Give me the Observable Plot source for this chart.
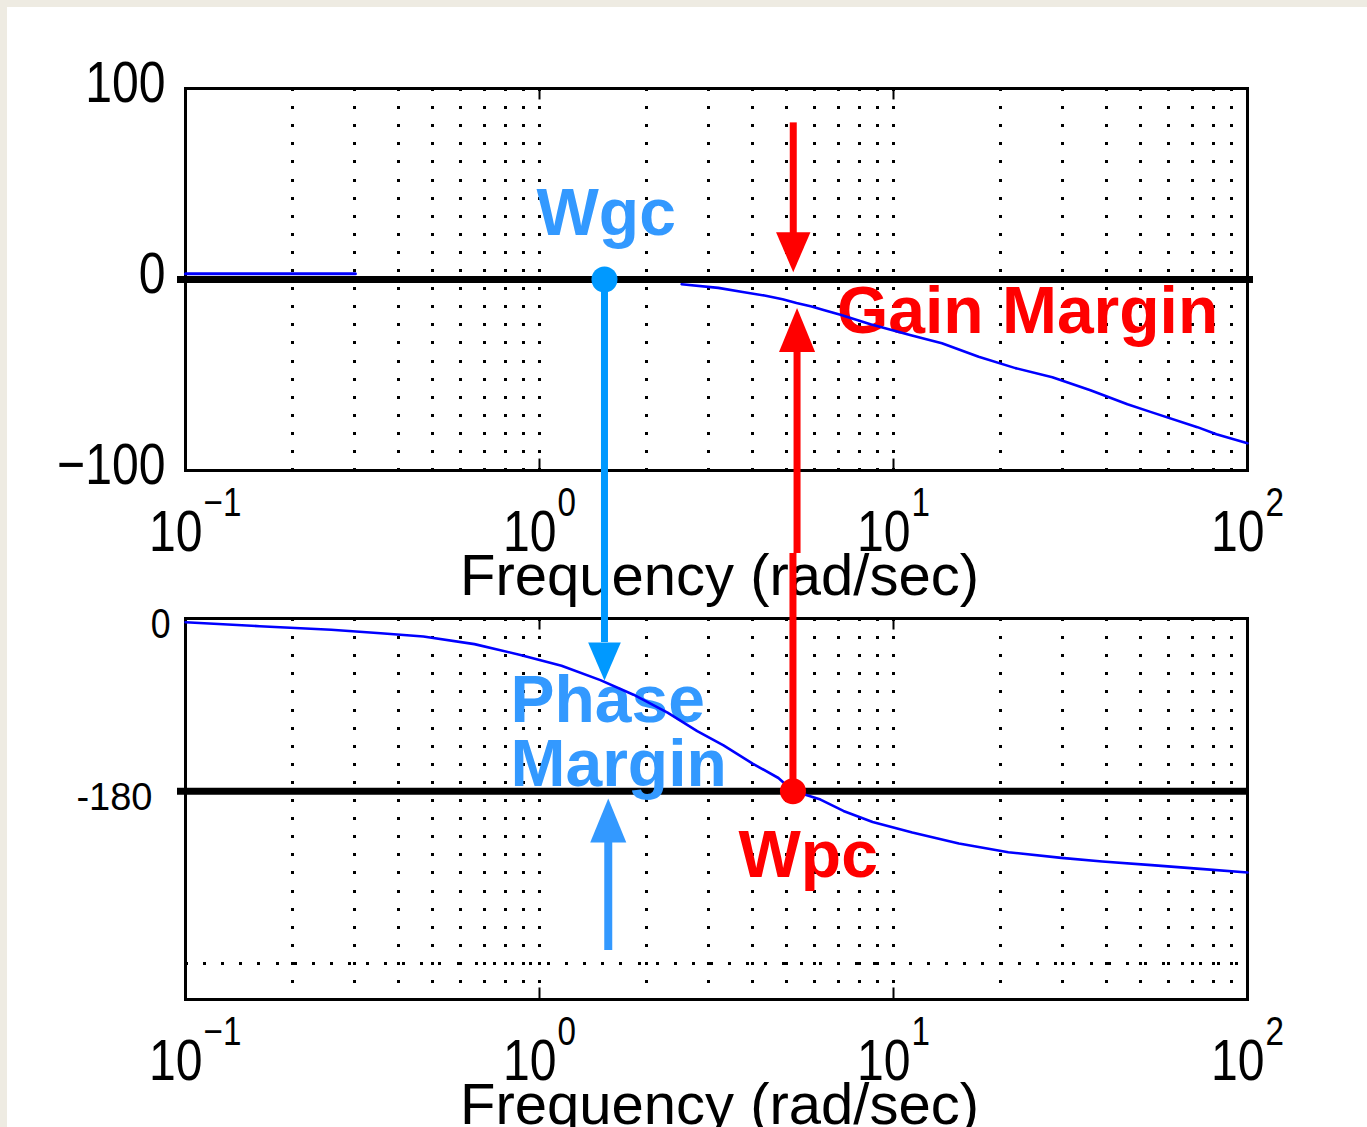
<!DOCTYPE html>
<html>
<head>
<meta charset="utf-8">
<script src="https://cdn.jsdelivr.net/npm/d3@7"></script>
<script src="https://cdn.jsdelivr.net/npm/@observablehq/plot@0.6"></script>
<style>
  html, body { margin: 0; padding: 0; }
  body { width: 1367px; height: 1127px; background: #eeebe2; position: relative; overflow: hidden; }
  #paper { position: absolute; left: 7px; top: 7px; right: 0; bottom: 0; background: #ffffff; }
  .layer { position: absolute; left: 0; top: 0; width: 1367px; height: 1127px; }
</style>
</head>
<body>
<div id="paper"></div>
<div id="top" class="layer"></div>
<div id="bottom" class="layer"></div>
<script>
// ---------- data ----------
const freqDomain = [0.1, 100];
const gridFreqs = [0.2,0.3,0.4,0.5,0.6,0.7,0.8,0.9,1,2,3,4,5,6,7,8,9,10,20,30,40,50,60,70,80,90];
const decadeTicks = [0.1, 1, 10, 100];
const decadeBase = ["10", "10", "10", "10"];
const decadeExponents = ["\u22121", "0", "1", "2"];
const innerTicks = [1, 10];

const magDomain = [-100, 100];
const magTicks = [-100, 0, 100];
const magTickLabels = ["\u2212100", "0", "100"];

const phaseDomain = [-397, 0];
const phaseGridLines = [-360];
const phaseTopLabel = ["0"];
const phaseRefLabel = ["-180"];

// magnitude curve (dB), low-frequency piece and high-frequency piece
const magLowFreq = [0.1, 0.302];
const magLowDb   = [3.0, 3.0];
const magHighFreq = [2.52, 3.2, 3.75, 4.32, 4.86, 5.32, 5.87, 6.38, 7.08, 8.61, 11.2, 13.7, 17.4, 22.1, 28.1, 36.0, 45.8, 53.2, 72.2, 81.7, 100];
const magHighDb   = [-2.5, -4.4, -6.5, -8.4, -10.3, -12.3, -14.1, -16.1, -18.4, -23.4, -29.2, -33.4, -40.4, -46.4, -51.2, -58.0, -65.3, -69.3, -77.3, -81.0, -85.7];

// phase curve (deg)
const phaseFreq = [0.1, 0.162, 0.258, 0.356, 0.47, 0.655, 0.889, 1.154, 1.486, 1.843, 2.30, 2.79, 3.31, 4.0, 4.73, 5.19, 6.22, 7.22, 8.73, 11.3, 15.3, 21.1, 29.8, 38.9, 53.6, 73.6, 100];
const phaseDeg  = [-3.9, -8.0, -11.8, -15.3, -18.7, -26.7, -38.2, -49.2, -64.2, -79.4, -98.1, -117.3, -132.2, -151.2, -166.2, -179.5, -188.7, -200.5, -212.0, -223.0, -234.4, -243.5, -249.4, -253.2, -257.0, -260.9, -264.6];

// annotations
const wgcFreq = 1.526;            // gain crossover
const wpcFreq = 5.20;             // phase crossover
const pmArrowFreq = 1.564;
const gmUpperFreq = 5.21;
const gmLowerFreq = 5.34;
const gmDownLine = [82, 19];      // dB, top panel
const gmDownHead = [14.3];        // dB
const gmUpHead = [-26.5];         // dB
const gmLink = [[284.5, 67.7], [67.7, -180]]; // deg, bottom panel scale
const wgcLink = [354.3, -25];     // deg, bottom panel scale
const wgcHead = [-44.8];
const pmUpLine = [-346, -232];
const pmUpHead = [-210.5];

const labelWgc = {text: "Wgc", f: 0.981, v: 23.2};
const labelGM = {text: "Gain Margin", f: 6.92, v: -28.1};
const labelPhase = {text: "Phase", f: 0.828, v: -107.9};
const labelMargin = {text: "Margin", f: 0.828, v: -174.5};
const labelWpc = {text: "Wpc", f: 3.65, v: -269.8};

const xLabel = "Frequency (rad/sec)";

// ---------- helpers ----------
const W = 1367, H = 1127;
const RED = "#ff0000", BLUE_LINE = "#0099ff", BLUE_TXT = "#3399ff", CURVE = "#0000ff";
const NARROW = "'Liberation Sans Narrow', 'Liberation Sans', Arial, sans-serif";
const SANS = "'Liberation Sans', Arial, sans-serif";

const triDown = {draw(ctx, size) { const r = Math.sqrt(size / Math.PI); ctx.moveTo(-0.86 * r, -r); ctx.lineTo(0.86 * r, -r); ctx.lineTo(0, r); ctx.closePath(); }};
const triUp = {draw(ctx, size) { const r = Math.sqrt(size / Math.PI); ctx.moveTo(-0.82 * r, r); ctx.lineTo(0.82 * r, r); ctx.lineTo(0, -r); ctx.closePath(); }};

const magLow = magLowFreq.map((f, i) => ({f, v: magLowDb[i]}));
const magHigh = magHighFreq.map((f, i) => ({f, v: magHighDb[i]}));
const phase = phaseFreq.map((f, i) => ({f, v: phaseDeg[i]}));

const dotted = {stroke: "#000", strokeWidth: 3, strokeDasharray: "3,15.1", shapeRendering: "crispEdges"};
const boldText = {textAnchor: "start", lineAnchor: "bottom", fontSize: 66, fontWeight: "bold", fontFamily: SANS};

function axisLabels(yMin) {
  return [
    Plot.text(decadeTicks, {x: d => d, y: yMin, text: (d, i) => decadeBase[i], textAnchor: "end", lineAnchor: "bottom", dx: 17, dy: 80, fontSize: 58, fontFamily: NARROW, fill: "#000"}),
    Plot.text(decadeTicks, {x: d => d, y: yMin, text: (d, i) => decadeExponents[i], textAnchor: "start", lineAnchor: "bottom", dx: 18, dy: 45, fontSize: 40, fontFamily: NARROW, fill: "#000"}),
    Plot.text([xLabel], {frameAnchor: "bottom", lineAnchor: "bottom", dx: 3, dy: 124, fontSize: 58, fontFamily: SANS, fill: "#000"})
  ];
}

// narrow the MATLAB-style numeric labels (the original font is condensed)
function condense(svg) {
  d3.select(svg).selectAll('g[font-family*="Narrow"] text').each(function () {
    const t = this.getAttribute("transform") || "";
    this.setAttribute("transform", t + " scale(0.83,1)");
  });
  return svg;
}

// ---------- top: magnitude ----------
const topPlot = Plot.plot({
  width: W, height: H,
  marginLeft: 185, marginRight: 120, marginTop: 88, marginBottom: H - 470,
  x: {type: "log", domain: freqDomain, axis: null},
  y: {domain: magDomain, axis: null},
  style: {background: "transparent", overflow: "visible"},
  marks: [
    Plot.ruleX(gridFreqs, {x: d => d, ...dotted}),
    Plot.ruleX(innerTicks, {x: d => d, y1: magDomain[0], y2: magDomain[0] + 6, stroke: "#000", strokeWidth: 2}),
    Plot.ruleX(innerTicks, {x: d => d, y1: magDomain[1], y2: magDomain[1] - 6, stroke: "#000", strokeWidth: 2}),
    Plot.frame({stroke: "#000", strokeWidth: 3}),
    Plot.text(magTicks, {x: freqDomain[0], y: d => d, text: (d, i) => magTickLabels[i], textAnchor: "end", lineAnchor: "bottom", dx: -20, dy: 13, fontSize: 58, fontFamily: NARROW, fill: "#000"}),
    ...axisLabels(magDomain[0]),
    Plot.text([labelGM], {x: "f", y: "v", text: "text", ...boldText, fill: RED}),
    Plot.text([labelWgc], {x: "f", y: "v", text: "text", ...boldText, fill: BLUE_TXT}),
    Plot.line(magLow, {x: "f", y: "v", stroke: CURVE, strokeWidth: 3}),
    Plot.line(magHigh, {x: "f", y: "v", stroke: CURVE, strokeWidth: 2.6}),
    Plot.ruleY([0], {stroke: "#000", strokeWidth: 7, insetLeft: -8, insetRight: -6}),
    Plot.ruleX([gmUpperFreq], {x: d => d, y1: gmDownLine[0], y2: gmDownLine[1], stroke: RED, strokeWidth: 7}),
    Plot.dot(gmDownHead, {x: gmUpperFreq, y: d => d, r: 20, symbol: triDown, fill: RED, stroke: "none"}),
    Plot.dot(gmUpHead, {x: gmLowerFreq, y: d => d, r: 22, symbol: triUp, fill: RED, stroke: "none"}),
    Plot.dot([wgcFreq], {x: d => d, y: 0, r: 13, fill: BLUE_LINE, stroke: "none"})
  ]
});
document.getElementById("top").appendChild(condense(topPlot));

// ---------- bottom: phase ----------
const bottomPlot = Plot.plot({
  width: W, height: H,
  marginLeft: 185, marginRight: 120, marginTop: 618, marginBottom: H - 999,
  x: {type: "log", domain: freqDomain, axis: null},
  y: {domain: phaseDomain, axis: null},
  style: {background: "transparent", overflow: "visible"},
  marks: [
    Plot.ruleX(gridFreqs, {x: d => d, ...dotted}),
    Plot.ruleY(phaseGridLines, {y: d => d, ...dotted}),
    Plot.ruleX(innerTicks, {x: d => d, y1: phaseDomain[0], y2: phaseDomain[0] + 12, stroke: "#000", strokeWidth: 2}),
    Plot.ruleX(innerTicks, {x: d => d, y1: phaseDomain[1], y2: phaseDomain[1] - 12, stroke: "#000", strokeWidth: 2}),
    Plot.frame({stroke: "#000", strokeWidth: 3}),
    Plot.text(phaseTopLabel, {x: freqDomain[0], y: 0, text: d => d, textAnchor: "end", lineAnchor: "bottom", dx: -15, dy: 19, fontSize: 43, fontFamily: NARROW, fill: "#000"}),
    Plot.text(phaseRefLabel, {x: freqDomain[0], y: -180, text: d => d, textAnchor: "end", lineAnchor: "bottom", dx: -33, dy: 19, fontSize: 38, fontFamily: SANS, fill: "#000"}),
    ...axisLabels(phaseDomain[0]),
    Plot.ruleY([-180], {stroke: "#000", strokeWidth: 7, insetLeft: -8}),
    Plot.text([labelPhase], {x: "f", y: "v", text: "text", ...boldText, fill: BLUE_TXT}),
    Plot.text([labelMargin], {x: "f", y: "v", text: "text", ...boldText, fill: BLUE_TXT}),
    Plot.text([labelWpc], {x: "f", y: "v", text: "text", ...boldText, fill: RED}),
    Plot.line(phase, {x: "f", y: "v", stroke: CURVE, strokeWidth: 2.6}),
    // cross-panel connectors
    Plot.ruleX([wgcFreq], {x: d => d, y1: wgcLink[0], y2: wgcLink[1], stroke: BLUE_LINE, strokeWidth: 7}),
    Plot.dot(wgcHead, {x: wgcFreq, y: d => d, r: 19, symbol: triDown, fill: BLUE_LINE, stroke: "none"}),
    Plot.ruleX([pmArrowFreq], {x: d => d, y1: pmUpLine[0], y2: pmUpLine[1], stroke: BLUE_TXT, strokeWidth: 8}),
    Plot.dot(pmUpHead, {x: pmArrowFreq, y: d => d, r: 22, symbol: triUp, fill: BLUE_TXT, stroke: "none"}),
    Plot.ruleX([gmLowerFreq], {x: d => d, y1: gmLink[0][0], y2: gmLink[0][1], stroke: RED, strokeWidth: 7}),
    Plot.ruleX([wpcFreq], {x: d => d, y1: gmLink[1][0], y2: gmLink[1][1], stroke: RED, strokeWidth: 7}),
    Plot.dot([wpcFreq], {x: d => d, y: -180, r: 13, fill: RED, stroke: "none"})
  ]
});
document.getElementById("bottom").appendChild(condense(bottomPlot));
</script>
</body>
</html>
